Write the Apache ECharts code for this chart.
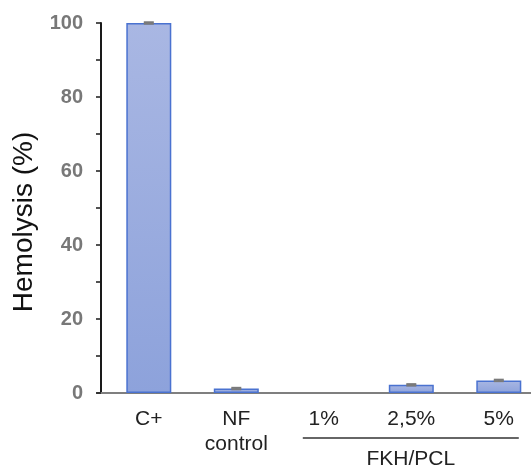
<!DOCTYPE html>
<html>
<head>
<meta charset="utf-8">
<style>
  html, body { margin: 0; padding: 0; background: #fff; }
  #chart { width: 531px; height: 470px; }
</style>
<script src="https://cdn.jsdelivr.net/npm/echarts@6/dist/echarts.min.js"></script>
</head>
<body>
<div id="chart"></div>
<script>
// Hemolysis per sample group
const categories = ['C+', 'NF\ncontrol', '1%', '2,5%', '5%'];
const hemolysis = [100, 1.2, 0, 2.2, 3.4];
const errors = [0.2, 0.2, 0, 0.2, 0.2];
const yTicks = [0, 20, 40, 60, 80, 100];
const groupName = 'FKH/PCL';
const groupMembers = [2, 3, 4]; // indices of the FKH/PCL concentrations

const FONT = '"Liberation Sans", Arial, sans-serif';
const chart = echarts.init(document.getElementById('chart'), null, { renderer: 'canvas' });

// zero-height bars get no outline so nothing is drawn for them
const barData = hemolysis.map((v, i) => ({
  value: [i, v],
  itemStyle: v === 0 ? { borderWidth: 0 } : undefined
}));
const errData = hemolysis.map((v, i) => [i, v - errors[i], v + errors[i], errors[i]]);

chart.setOption({
  animation: false,
  backgroundColor: '#ffffff',
  grid: { left: 97, right: 0, top: 23, bottom: 77 },
  xAxis: {
    type: 'value',
    min: -0.592,
    max: 4.368,
    splitLine: { show: false },
    axisLine: { show: true, onZero: true, lineStyle: { color: '#7f7f7f', width: 2 } },
    axisTick: { show: false },
    axisLabel: {
      customValues: categories.map((c, i) => i),
      formatter: v => categories[Math.round(v)] || '',
      color: '#222',
      fontFamily: FONT,
      fontSize: 21,
      lineHeight: 25,
      margin: 14,
      align: 'center'
    }
  },
  yAxis: {
    type: 'value',
    min: 0,
    max: 100,
    interval: 10,
    offset: -4,
    name: 'Hemolysis (%)',
    nameLocation: 'middle',
    nameGap: 60,
    nameTextStyle: {
      color: '#111',
      fontFamily: FONT,
      fontSize: 28,
      padding: [0, 28, 0, 0]
    },
    splitLine: { show: false },
    axisLine: { show: true, onZero: false, lineStyle: { color: '#1a1a1a', width: 2 } },
    axisTick: { show: true, length: 5, inside: false, lineStyle: { color: '#1a1a1a', width: 1.5 } },
    axisLabel: {
      formatter: v => (yTicks.indexOf(v) >= 0 ? String(v) : ''),
      color: '#787878',
      fontFamily: FONT,
      fontWeight: 'bold',
      fontSize: 20,
      margin: 18
    }
  },
  series: [
    {
      type: 'bar',
      data: barData,
      barWidth: 45,
      itemStyle: {
        color: new echarts.graphic.LinearGradient(0, 0, 0, 1, [
          { offset: 0, color: '#a9b7e3' },
          { offset: 1, color: '#8da2db' }
        ]),
        borderColor: '#4a72d0',
        borderWidth: 1.5
      }
    },
    {
      type: 'custom',
      data: errData,
      z: 5,
      renderItem: (params, api) => {
        if (api.value(3) === 0) return null;
        const lo = api.coord([api.value(0), api.value(1)]);
        const hi = api.coord([api.value(0), api.value(2)]);
        const half = 5;
        const style = { stroke: '#7a7a7a', lineWidth: 2 };
        return {
          type: 'group',
          children: [
            { type: 'line', shape: { x1: hi[0], y1: hi[1], x2: lo[0], y2: lo[1] }, style },
            { type: 'line', shape: { x1: hi[0] - half, y1: hi[1], x2: hi[0] + half, y2: hi[1] }, style },
            { type: 'line', shape: { x1: lo[0] - half, y1: lo[1], x2: lo[0] + half, y2: lo[1] }, style }
          ]
        };
      }
    }
  ]
});

// Group bracket under the FKH/PCL concentrations
const first = chart.convertToPixel({ gridIndex: 0 }, [groupMembers[0], 0]);
const last = chart.convertToPixel({ gridIndex: 0 }, [groupMembers[groupMembers.length - 1], 0]);
const x1 = first[0] - 21, x2 = last[0] + 20;
chart.setOption({
  graphic: [
    {
      type: 'line',
      shape: { x1: x1, y1: first[1] + 45, x2: x2, y2: first[1] + 45 },
      style: { stroke: '#333', lineWidth: 1.5 }
    },
    {
      type: 'text',
      x: (x1 + x2) / 2,
      y: first[1] + 66,
      style: {
        text: groupName,
        fill: '#222',
        font: '21px ' + FONT,
        align: 'center',
        verticalAlign: 'middle'
      }
    }
  ]
});
</script>
</body>
</html>
